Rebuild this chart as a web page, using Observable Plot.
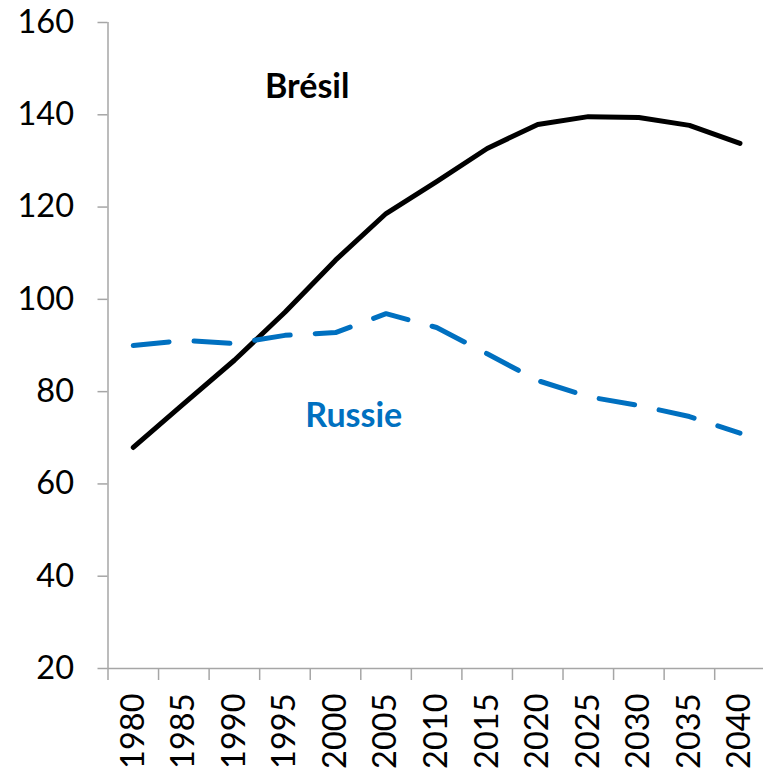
<!DOCTYPE html>
<html>
<head>
<meta charset="utf-8">
<script src="https://cdn.jsdelivr.net/npm/d3@7"></script>
<script src="https://cdn.jsdelivr.net/npm/@observablehq/plot@0.6"></script>
<style>
  html, body { margin: 0; padding: 0; background: #fff; }
  #chart svg { display: block; overflow: visible; }
</style>
</head>
<body>
<div id="chart"></div>
<script>
// Categories (years)
const years = [1980, 1985, 1990, 1995, 2000, 2005, 2010, 2015, 2020, 2025, 2030, 2035, 2040];
// Series values
const bresil = [67.9, 77.4, 86.8, 97.2, 108.5, 118.6, 125.5, 132.7, 137.9, 139.6, 139.4, 137.7, 133.8];
const russie = [90.0, 91.1, 90.4, 92.2, 92.8, 96.9, 93.9, 88.2, 82.4, 78.9, 77.0, 74.6, 71.0];
// Tick values
const yTicks = [20, 40, 60, 80, 100, 120, 140, 160];
const xCategoryEdges = [1977.5, 1982.5, 1987.5, 1992.5, 1997.5, 2002.5, 2007.5, 2012.5, 2017.5, 2022.5, 2027.5, 2032.5, 2037.5, 2042.5];
// Series labels (in data units)
const labelNames = ["Brésil", "Russie"];
const labelYears = [1997.2, 2001.8];
const labelValues = [146.0, 74.8];
const labelColors = ["#000000", "#0070C0"];

const data = years.map((year, i) => ({year, bresil: bresil[i], russie: russie[i]}));
const labels = labelNames.map((name, i) => ({name, year: labelYears[i], value: labelValues[i], color: labelColors[i]}));

const axisGray = "#a6a6a6";

const chart = Plot.plot({
  width: 763,
  height: 771,
  marginTop: 22,
  marginBottom: 103,
  marginLeft: 107.5,
  marginRight: 0,
  style: {fontFamily: "Lato, 'Open Sans', sans-serif", fontSize: "32px", color: "black", background: "white"},
  x: {domain: [1977.5, 2042.5], range: [107.5, 764.75], label: null},
  y: {domain: [20, 160], label: null},
  marks: [
    Plot.ruleX([1977.5], {stroke: axisGray, strokeWidth: 1.5}),
    Plot.ruleY([20], {stroke: axisGray, strokeWidth: 1.5}),
    Plot.axisY({ticks: yTicks, tickSize: 10, tickPadding: 24, stroke: axisGray, strokeWidth: 1.5, fill: "black", fontSize: 32.5, tickFormat: d => String(d)}),
    Plot.axisX({ticks: xCategoryEdges, tickSize: 12, stroke: axisGray, strokeWidth: 1.5, tickFormat: () => ""}),
    Plot.axisX({ticks: years, tickSize: 0, tickPadding: 25, tickRotate: -90, fill: "black", fontSize: 32.5, tickFormat: d => String(d)}),
    Plot.line(data, {x: "year", y: "bresil", stroke: "black", strokeWidth: 5, strokeLinecap: "round", strokeLinejoin: "round"}),
    Plot.line(data, {x: "year", y: "russie", stroke: "#0070C0", strokeWidth: 5, strokeDasharray: "36,25", strokeLinecap: "round", strokeLinejoin: "round"}),
    Plot.text(labels, {x: "year", y: "value", text: "name", fill: "color", fontSize: 34, fontWeight: "bold", textAnchor: "middle", lineAnchor: "middle"})
  ]
});
document.getElementById("chart").appendChild(chart);
</script>
</body>
</html>
